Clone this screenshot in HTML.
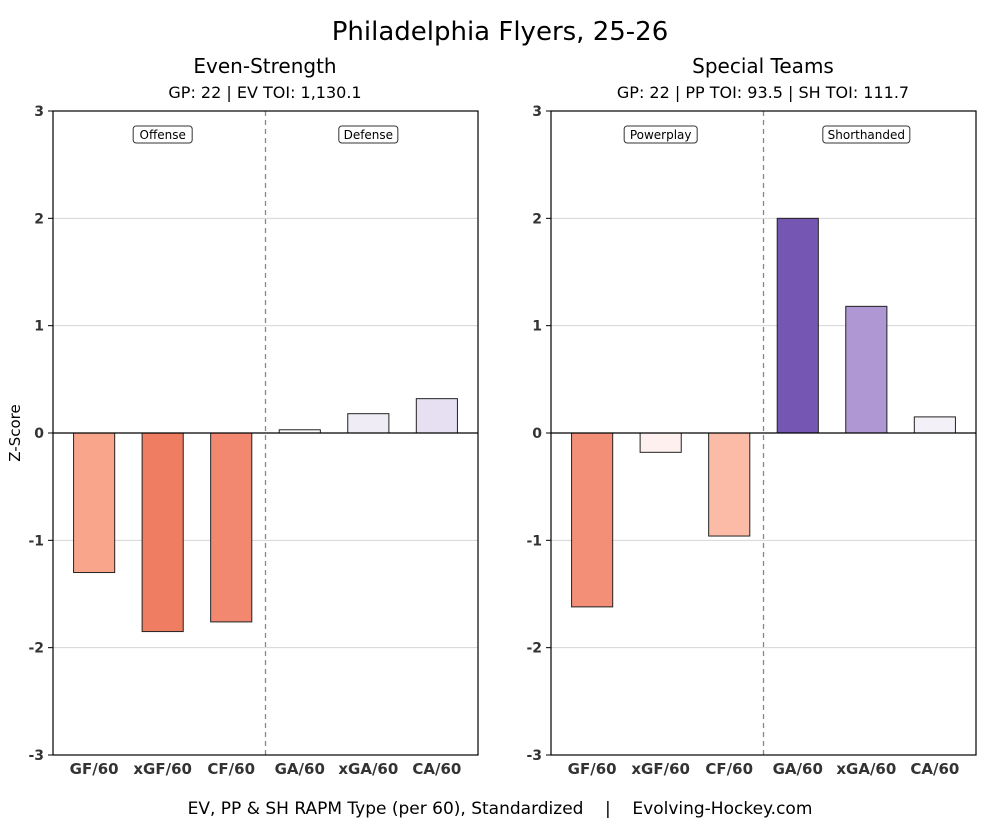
<!DOCTYPE html>
<html><head><meta charset="utf-8"><style>
body{margin:0;background:#fff;width:1000px;height:823px;overflow:hidden;font-family:"DejaVu Sans","Liberation Sans",sans-serif}
svg text{font-family:"DejaVu Sans","Liberation Sans",sans-serif}
</style></head><body>
<svg id="chart" width="1000" height="823" viewBox="0 0 1000 823">
<text x="500" y="40" text-anchor="middle" font-size="26">Philadelphia Flyers, 25-26</text>
<text x="265" y="73" text-anchor="middle" font-size="20">Even-Strength</text>
<text x="265" y="98" text-anchor="middle" font-size="16">GP: 22 | EV TOI: 1,130.1</text>
<text x="763" y="73" text-anchor="middle" font-size="20">Special Teams</text>
<text x="763" y="98" text-anchor="middle" font-size="16">GP: 22 | PP TOI: 93.5 | SH TOI: 111.7</text>
<text x="20" y="433" text-anchor="middle" font-size="15" transform="rotate(-90 20 433)">Z-Score</text>
<text x="500" y="814" text-anchor="middle" font-size="17">EV, PP &amp; SH RAPM Type (per 60), Standardized &#160;&#160;&#160;|&#160;&#160;&#160; Evolving-Hockey.com</text>
<g id="panels"></g>
</svg>
<script>
const categories = ["GF/60","xGF/60","CF/60","GA/60","xGA/60","CA/60"];
const evValues = [-1.30,-1.85,-1.76,0.03,0.18,0.32];
const stValues = [-1.62,-0.18,-0.96,2.00,1.18,0.15];
const evColors = ["#f9a58b","#ef7d62","#f28870","#fdfbfd","#f0ecf6","#e6e0f2"];
const stColors = ["#f28f76","#fdf0ee","#fcbba6","#7556b3","#ae97d2","#f3f1f7"];
const yTicks = [-3,-2,-1,0,1,2,3];
const evLabels = ["Offense","Defense"];
const stLabels = ["Powerplay","Shorthanded"];

const NS="http://www.w3.org/2000/svg";
const root=document.getElementById('panels');
const yTop=111,yBot=755;
function yS(v){return yTop+(3-v)/6*(yBot-yTop);}
function mk(tag,attrs,parent){const e=document.createElementNS(NS,tag);for(const k in attrs)e.setAttribute(k,attrs[k]);parent.appendChild(e);return e;}

function panel(x0,x1,vals,cols,labels,key){
  const g=mk('g',{},root);
  
  
  const xS=i=>x0+(i+0.6)/6.2*(x1-x0);
  const bw=0.6/6.2*(x1-x0);
  yTicks.forEach(t=>{
    if(t!==0&&t!==3&&t!==-3){const l=mk('line',{x1:x0,x2:x1,y1:yS(t),y2:yS(t),stroke:'#d5d5d5','stroke-width':1},g);
    
    }
    const tk=mk('line',{x1:x0-5,x2:x0,y1:yS(t),y2:yS(t),stroke:'#000'},g);
    
    
    const tx=mk('text',{x:x0-9,y:yS(t)+5,'text-anchor':'end','font-size':14,'font-weight':'bold',fill:'#333'},g);
    tx.textContent=t;
    
    
  });
  const midX=(xS(2)+xS(3))/2;
  const dl=mk('line',{x1:midX,x2:midX,y1:yTop,y2:yBot,stroke:'#888','stroke-dasharray':'5,4','stroke-width':1.3},g);
  
  
  vals.forEach((v,i)=>{
    const y0=yS(0),y1=yS(v);
    const r=mk('rect',{x:xS(i)-bw/2,y:Math.min(y0,y1),width:bw,height:Math.abs(y1-y0),fill:cols[i],stroke:'#222','stroke-width':1},g);
    
    
    const t=mk('text',{x:xS(i),y:yBot+19,'text-anchor':'middle','font-size':15,'font-weight':'bold',fill:'#333'},g);
    t.textContent=categories[i];
    
    
  });
  const zl=mk('line',{x1:x0,x2:x1,y1:yS(0),y2:yS(0),stroke:'#000','stroke-width':1.2},g);
  
  
  const fr=mk('rect',{x:x0,y:yTop,width:x1-x0,height:yBot-yTop,fill:'none',stroke:'#000','stroke-width':1.2},g);
  
  
  [xS(1),xS(4)].forEach((cx,j)=>{
    const w=labels[j].length*7+10;
    const b=mk('rect',{x:cx-w/2,y:126,width:w,height:17,rx:3,fill:'#fff',stroke:'#333','stroke-width':1},g);
    
    
    const t=mk('text',{x:cx,y:139,'text-anchor':'middle','font-size':12},g);
    t.textContent=labels[j];
    
    
  });
}
panel(53,478,evValues,evColors,evLabels,'ev');
panel(551,976,stValues,stColors,stLabels,'st');
</script>
</body></html>
